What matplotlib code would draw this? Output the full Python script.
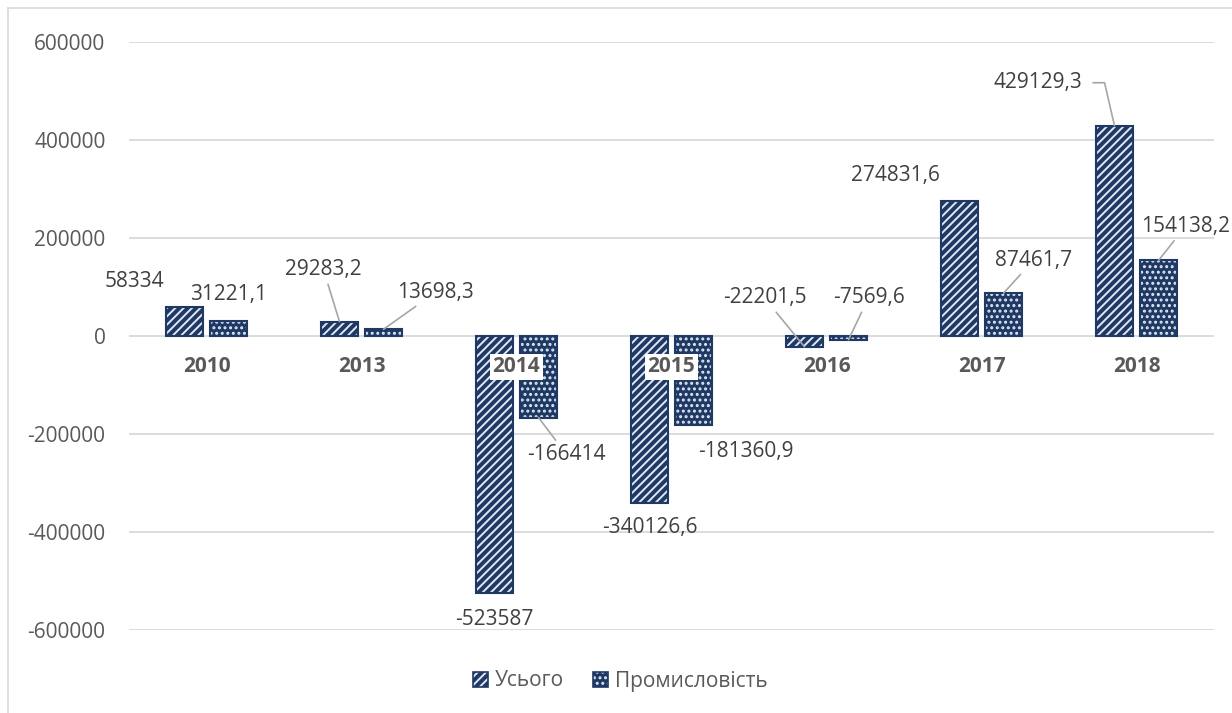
import numpy as np
import matplotlib
matplotlib.use('Agg')
import matplotlib.pyplot as plt
from matplotlib.patches import Patch
from matplotlib.lines import Line2D
from matplotlib.legend_handler import HandlerTuple

# == DATA =================================================================== #
years = ['2010', '2013', '2014', '2015', '2016', '2017', '2018']
total = [58334, 29283.2, -523587, -340126.6, -22201.5, 274831.6, 429129.3]
industry = [31221.1, 13698.3, -166414, -181360.9, -7569.6, 87461.7, 154138.2]
series_names = ['Усього', 'Промисловість']
yticks = [-600000, -400000, -200000, 0, 200000, 400000, 600000]

# label offsets from bar end (pixels), and whether a leader line is drawn
total_off = [(-50, 26), (-16, 52), (0, -27), (0, -25), (-40, 49), (-64, 26), (-77, 43)]
total_lead = [False, True, False, False, True, False, True]
ind_off = [(0, 26), (52, 37), (28, -37), (52, -27), (20, 42), (30, 33), (27, 34)]
ind_lead = [False, True, True, False, True, True, True]

# == STYLE ================================================================== #
plt.rcParams['font.family'] = ['Open Sans', 'DejaVu Sans']
plt.rcParams['hatch.linewidth'] = 1.4
NAVY = '#1f3864'
HATCH = '#dfe8f3'
GRID = '#d9d9d9'
TXT = '#404040'
TICK = '#595959'
FS = 15


def fmt(v):
    if float(v).is_integer():
        return str(int(v))
    return ('%.1f' % v).replace('.', ',')


fig = plt.figure(figsize=(12.32, 7.13), dpi=100)
ax = fig.add_axes([129 / 1232, 83 / 713, 1085 / 1232, 588 / 713])

x = np.arange(len(years))
w = 0.235
dx = 0.142

for vals, off, hatch in [(total, -dx, '////'), (industry, dx, '...')]:
    ax.bar(x + off, vals, w, color=NAVY, edgecolor=HATCH, lw=0, hatch=hatch, zorder=2)
    ax.bar(x + off, vals, w, fill=False, edgecolor=NAVY, lw=1.5, zorder=3)

# data labels
for vals, off, offs, leads in [(total, -dx, total_off, total_lead),
                               (industry, dx, ind_off, ind_lead)]:
    for i, v in enumerate(vals):
        kw = {}
        if leads[i]:
            if offs[i][0] < -60:
                kw['arrowprops'] = dict(arrowstyle='-', color='#a6a6a6', lw=1.2,
                                        shrinkA=6, shrinkB=0, relpos=(1, 0.5),
                                        connectionstyle='angle,angleA=0,angleB=103,rad=0')
            else:
                kw['arrowprops'] = dict(arrowstyle='-', color='#a6a6a6', lw=1.2,
                                        shrinkA=1, shrinkB=0)
        ax.annotate(fmt(v), (x[i] + off, v), xytext=offs[i], textcoords='offset pixels',
                    ha='center', va='center', fontsize=FS, color=TXT, zorder=6,
                    annotation_clip=False, **kw)

# category labels sitting just under the zero line
for i, yr in enumerate(years):
    ax.annotate(yr, (x[i], 0), xytext=(0, -31), textcoords='offset pixels',
                ha='center', va='center', fontsize=FS, fontweight='bold', color=TICK,
                bbox=dict(boxstyle='square,pad=0.12', fc='white', ec='none'), zorder=5)

ax.set_xlim(-0.5, len(years) - 0.5)
ax.set_ylim(-600000, 600000)
ax.set_yticks(yticks)
ax.set_yticklabels([str(t) for t in yticks])
ax.set_xticks([])
ax.tick_params(axis='y', length=0, pad=17, labelsize=FS, labelcolor=TICK)
ax.yaxis.grid(True, color=GRID, lw=1.3)
ax.set_axisbelow(True)
for s in ax.spines.values():
    s.set_visible(False)

# legend
handles = [(Patch(facecolor=NAVY, edgecolor=HATCH, lw=0, hatch='////'),
            Patch(fill=False, edgecolor=NAVY, lw=1.2)),
           (Patch(facecolor=NAVY, edgecolor=HATCH, lw=0, hatch='...'),
            Patch(fill=False, edgecolor=NAVY, lw=1.2))]
fig.legend(handles, series_names, handler_map={tuple: HandlerTuple(ndivide=1, pad=0)},
           loc='center', bbox_to_anchor=(620 / 1232, 1 - 681 / 713), ncol=2,
           frameon=False, handlelength=0.75, handleheight=0.75, handletextpad=0.3,
           columnspacing=1.4, fontsize=FS, labelcolor=TICK)

# chart border
fig.add_artist(Line2D([8 / 1232, 8 / 1232], [0, 1 - 8 / 713], transform=fig.transFigure,
                      color=GRID, lw=1.2))
fig.add_artist(Line2D([8 / 1232, 1], [1 - 8 / 713, 1 - 8 / 713], transform=fig.transFigure,
                      color=GRID, lw=1.2))

fig.savefig('out.png', dpi=100)
